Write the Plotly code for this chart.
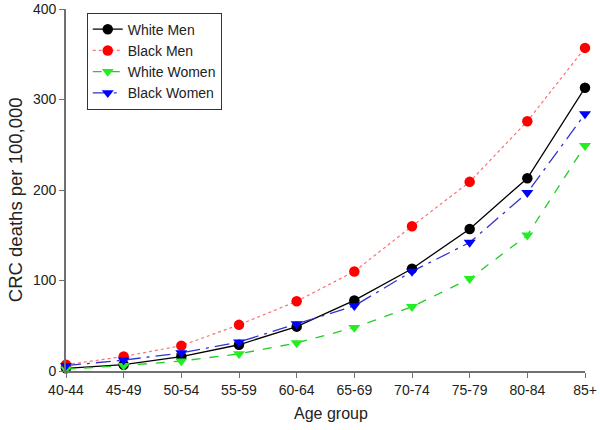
import plotly.graph_objects as go

age_groups = ["40-44", "45-49", "50-54", "55-59", "60-64", "65-69", "70-74", "75-79", "80-84", "85+"]
white_men = [3, 7, 16, 29, 49, 78, 113, 157, 213, 313]
black_men = [7, 16, 28, 51, 77, 110, 160, 209, 276, 357]
white_women = [2, 6, 11, 19, 31, 48, 71, 102, 150, 249]
black_women = [6, 12, 20, 32, 52, 72, 110, 142, 197, 284]

fig = go.Figure()
fig.add_trace(go.Scatter(x=age_groups, y=white_men, name="White Men", mode="lines+markers",
                         line=dict(color="black", width=1.3, dash="solid"),
                         marker=dict(symbol="circle", size=10.5, color="black")))
fig.add_trace(go.Scatter(x=age_groups, y=black_men, name="Black Men", mode="lines+markers",
                         line=dict(color="#ff7070", width=1.2, dash="dot"),
                         marker=dict(symbol="circle", size=10.5, color="#ff0000")))
fig.add_trace(go.Scatter(x=age_groups, y=white_women, name="White Women", mode="lines+markers",
                         line=dict(color="#22cc22", width=1.3, dash="dash"),
                         marker=dict(symbol="triangle-down", size=10.5, color="#22ee22")))
fig.add_trace(go.Scatter(x=age_groups, y=black_women, name="Black Women", mode="lines+markers",
                         line=dict(color="#3333cc", width=1.3, dash="longdashdot"),
                         marker=dict(symbol="triangle-down", size=10.5, color="#0000ff")))
fig.update_traces(cliponaxis=False)

axis_color = "#707070"
fig.update_layout(
    width=600, height=430,
    margin=dict(l=66, r=15, t=9, b=59),
    paper_bgcolor="white", plot_bgcolor="white",
    font=dict(family="Liberation Sans, Arial, sans-serif", size=14, color="#222"),
    showlegend=True,
    legend=dict(x=0.040, y=0.99, xanchor="left", yanchor="top",
                bordercolor="#333", borderwidth=1, bgcolor="white",
                font=dict(size=14), tracegroupgap=0, itemwidth=30),
    xaxis=dict(type="category", range=[0, 9], showline=True, linecolor=axis_color, linewidth=1.6,
               ticks="outside", ticklen=5, tickcolor=axis_color, showgrid=False, zeroline=False,
               automargin=False, tickfont=dict(size=14)),
    yaxis=dict(range=[0, 400], tickvals=[0, 100, 200, 300, 400], showline=True,
               linecolor=axis_color, linewidth=1.6, ticks="outside", ticklen=5, tickcolor=axis_color,
               showgrid=False, zeroline=False, automargin=False, tickfont=dict(size=14)),
    annotations=[
        dict(text="Age group", xref="paper", yref="paper", x=0.51, y=-42 / 362, xanchor="center",
             yanchor="middle", showarrow=False, font=dict(size=16)),
        dict(text="CRC deaths per 100,000", xref="paper", yref="paper", x=-51 / 519, y=0.472,
             xanchor="center", yanchor="middle", textangle=-90, showarrow=False, font=dict(size=18.5)),
    ],
)

fig.write_html("out.html", config={"displayModeBar": False},
               post_script="document.body.style.margin='0px';")
